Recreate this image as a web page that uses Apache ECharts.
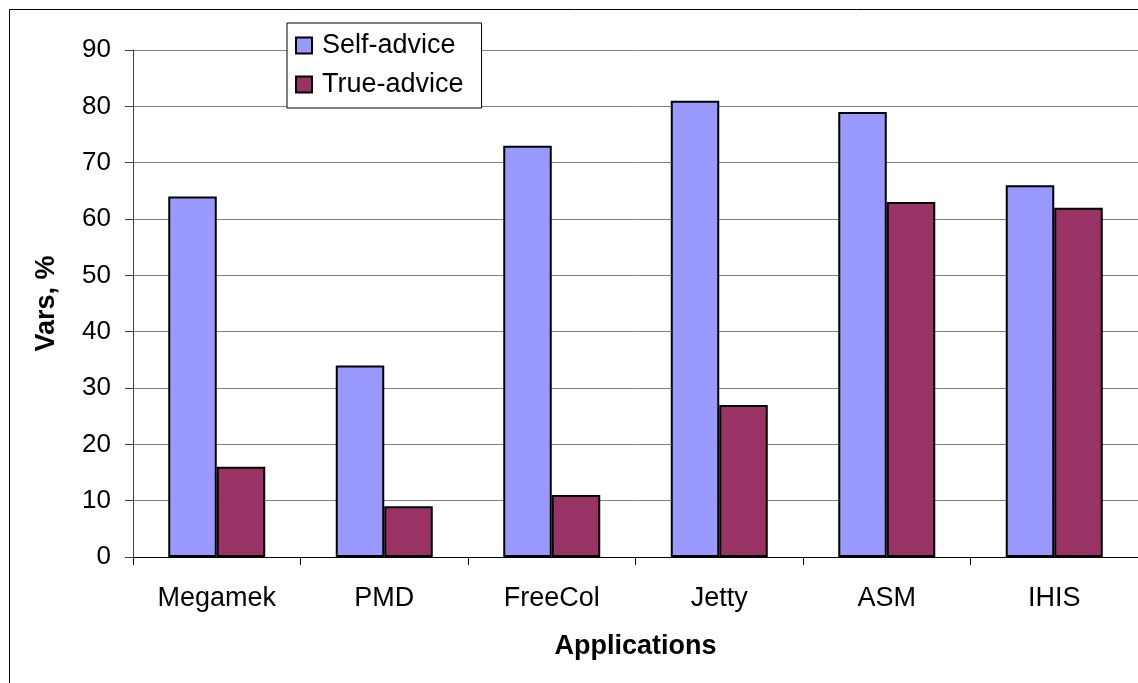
<!DOCTYPE html>
<html>
<head>
<meta charset="utf-8">
<script src="https://cdn.jsdelivr.net/npm/echarts@6/dist/echarts.min.js"></script>
<style>
html, body { margin: 0; padding: 0; background: #fff; }
#chart { width: 1138px; height: 683px; }
</style>
</head>
<body>
<div id="chart"></div>
<script>
// chart data
const categories = ['Megamek', 'PMD', 'FreeCol', 'Jetty', 'ASM', 'IHIS']
const selfAdvice = [64, 34, 73, 81, 79, 66]
const trueAdvice = [16, 9, 11, 27, 63, 62]
const yTicks = [0, 10, 20, 30, 40, 50, 60, 70, 80, 90]

const font = 'Liberation Sans, Arial, sans-serif'

const chart = echarts.init(document.getElementById('chart'))
chart.setOption({
	animation: false,
	backgroundColor: '#fff',
	color: ['#9999FF', '#993366'],
	textStyle: { fontFamily: font, color: '#000' },
	graphic: [{
		type: 'rect',
		shape: { x: 9.5, y: 9.5, width: 1300, height: 900 },
		style: { fill: 'none', stroke: '#000', lineWidth: 1 },
		silent: true
	}],
	grid: {
		left: 133,
		right: -6,
		top: 50,
		bottom: 126,
		containLabel: false
	},
	legend: {
		orient: 'vertical',
		left: 287,
		top: 23,
		padding: [9, 18, 10, 8],
		itemGap: 12,
		itemWidth: 16,
		itemHeight: 16,
		backgroundColor: '#fff',
		borderColor: '#000',
		borderWidth: 1,
		icon: 'rect',
		textStyle: { fontFamily: font, fontSize: 27, color: '#000', padding: [0, 0, 0, 5] },
		data: ['Self-advice', 'True-advice']
	},
	xAxis: {
		type: 'category',
		data: categories,
		name: 'Applications',
		nameLocation: 'middle',
		nameGap: 76,
		nameTextStyle: { fontFamily: font, fontSize: 27, fontWeight: 'bold', color: '#000' },
		axisLine: { lineStyle: { color: '#000', width: 1 } },
		axisTick: { show: true, length: 8, lineStyle: { color: '#000' } },
		axisLabel: { fontFamily: font, fontSize: 27, color: '#000', margin: 28 },
		splitLine: { show: false }
	},
	yAxis: {
		type: 'value',
		min: 0,
		max: yTicks[yTicks.length - 1],
		interval: 10,
		name: 'Vars, %',
		nameLocation: 'middle',
		nameGap: 73,
		nameTextStyle: { fontFamily: font, fontSize: 27, fontWeight: 'bold', color: '#000' },
		axisLine: { show: true, lineStyle: { color: '#404040', width: 1 } },
		axisTick: { show: true, length: 8, lineStyle: { color: '#404040' } },
		axisLabel: { fontFamily: font, fontSize: 26, color: '#000', margin: 22 },
		splitLine: { show: true, lineStyle: { color: '#808080', width: 1 } }
	},
	series: [{
		name: 'Self-advice',
		type: 'bar',
		data: selfAdvice,
		barWidth: 48.5,
		barGap: '0%',
		itemStyle: { borderColor: '#000', borderWidth: 2 }
	}, {
		name: 'True-advice',
		type: 'bar',
		data: trueAdvice,
		barWidth: 48.5,
		barGap: '0%',
		itemStyle: { borderColor: '#000', borderWidth: 2 }
	}]
})
</script>
</body>
</html>
